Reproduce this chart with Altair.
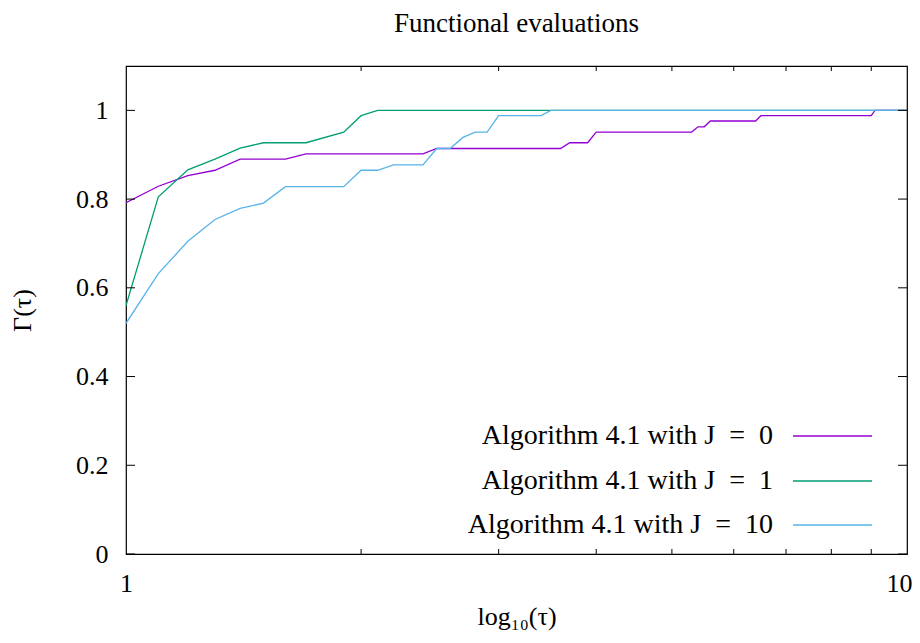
import altair as alt
import pandas as pd

# ---- data ----
series_names = ["Algorithm 4.1 with J\u2002=\u20020", "Algorithm 4.1 with J\u2002=\u20021", "Algorithm 4.1 with J\u2002=\u200210"]
series_colors = ["#9400d3", "#009e73", "#56b4e9"]

tau_j0 = [1.0, 1.1, 1.2, 1.3, 1.4, 1.6, 1.7, 2.4, 2.5, 3.6, 3.7, 3.9, 4.0, 5.3, 5.4, 5.5, 5.6, 6.4, 6.5, 9.0, 9.1, 10.0]
gam_j0 = [0.792, 0.829, 0.853, 0.865, 0.890, 0.890, 0.902, 0.902, 0.914, 0.914, 0.927, 0.927, 0.951, 0.951, 0.963, 0.963, 0.976, 0.976, 0.988, 0.988, 1.0, 1.0]

tau_j1 = [1.0, 1.1, 1.2, 1.3, 1.4, 1.5, 1.7, 1.9, 2.0, 2.1, 10.0]
gam_j1 = [0.560, 0.805, 0.866, 0.890, 0.915, 0.927, 0.927, 0.951, 0.988, 1.0, 1.0]

tau_j10 = [1.0, 1.1, 1.2, 1.3, 1.4, 1.5, 1.6, 1.9, 2.0, 2.1, 2.2, 2.4, 2.5, 2.6, 2.7, 2.8, 2.9, 3.0, 3.4, 3.5, 10.0]
gam_j10 = [0.520, 0.632, 0.705, 0.754, 0.779, 0.791, 0.828, 0.828, 0.865, 0.865, 0.877, 0.877, 0.914, 0.914, 0.939, 0.951, 0.951, 0.988, 0.988, 1.0, 1.0]

x_major_ticks = [1, 10]
x_minor_ticks = [2, 3, 4, 5, 6, 7, 8, 9]
y_ticks = [0, 0.2, 0.4, 0.6, 0.8, 1.0]

title_text = "Functional evaluations"
x_title = "log₁₀(τ)"
y_title = "Γ(τ)"

# ---- layout ----
W, H = 781, 488
FONT = "Liberation Serif"
FS = 26
FS_BIG = 28

xscale = alt.Scale(type="log", domain=[1, 10], nice=False)
yscale = alt.Scale(domain=[0, 1.1], nice=False, zero=False)
xaxis = alt.Axis(values=x_major_ticks, format="~g", tickSize=0, domain=False, grid=False,
                 labelPadding=16, title=x_title, titlePadding=7, labelFlush=False,
                 labelOffset={"condition": {"test": "datum.value == 10", "value": -8}, "value": 0})
yaxis = alt.Axis(values=y_ticks, format="~g", tickSize=0, domain=False, grid=False,
                 labelPadding=18, title=y_title, titlePadding=40)


def X(field):
    return alt.X(field, type="quantitative", scale=xscale, axis=xaxis)


def Y(field):
    return alt.Y(field, type="quantitative", scale=yscale, axis=yaxis)


layers = []
for name, col, xs, ys in zip(series_names, series_colors, [tau_j0, tau_j1, tau_j10], [gam_j0, gam_j1, gam_j10]):
    df = pd.DataFrame({"x": xs, "y": ys})
    layers.append(
        alt.Chart(df).mark_line(strokeWidth=1.3, color=col, clip=True).encode(x=X("x"), y=Y("y"))
    )

# inward ticks (gnuplot style, mirrored)
ydf = pd.DataFrame({"y": y_ticks})
layers.append(alt.Chart(ydf).mark_rule(color="black", strokeWidth=1).encode(
    y=Y("y"), x=alt.value(0), x2=alt.value(9)))
layers.append(alt.Chart(ydf).mark_rule(color="black", strokeWidth=1).encode(
    y=Y("y"), x=alt.value(W - 9), x2=alt.value(W)))
xmin = pd.DataFrame({"x": x_minor_ticks})
layers.append(alt.Chart(xmin).mark_rule(color="black", strokeWidth=1).encode(
    x=X("x"), y=alt.value(H - 5), y2=alt.value(H)))
layers.append(alt.Chart(xmin).mark_rule(color="black", strokeWidth=1).encode(
    x=X("x"), y=alt.value(0), y2=alt.value(5)))

# legend (text left of sample line)
leg_y = [370, 415, 459]
for name, col, ly in zip(series_names, series_colors, leg_y):
    tdf = pd.DataFrame({"t": [name]})
    layers.append(alt.Chart(tdf).mark_text(align="right", baseline="middle", font=FONT,
                                            fontSize=FS_BIG, color="black").encode(
        text="t:N", x=alt.value(647), y=alt.value(ly)))
    layers.append(alt.Chart(tdf).mark_rule(color=col, strokeWidth=1.3).encode(
        x=alt.value(667), x2=alt.value(746), y=alt.value(ly)))

chart = alt.layer(*layers).properties(
    width=W, height=H,
    title=alt.TitleParams(title_text, font=FONT, fontSize=27, fontWeight="normal", color="black",
                          anchor="middle", offset=28),
    autosize=alt.AutoSizeParams(type="none"),
    padding={"left": 118, "top": 58, "right": 5, "bottom": 80},
).configure_view(stroke="black", strokeWidth=1.2).configure_axis(
    labelFont=FONT, labelFontSize=FS, labelColor="black",
    titleFont=FONT, titleFontSize=FS, titleFontWeight="normal", titleColor="black",
)

chart.save("out.html", embed_options={"renderer": "svg", "actions": False})
